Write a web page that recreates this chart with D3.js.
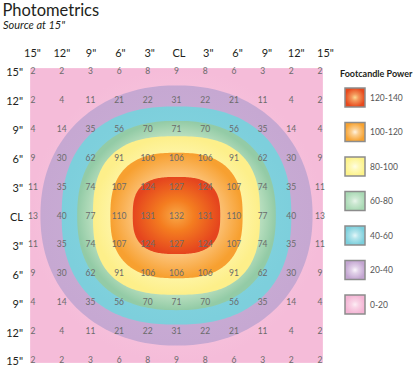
<!DOCTYPE html>
<html><head><meta charset="utf-8">
<script src="https://cdn.jsdelivr.net/npm/d3@7"></script>
<style>html,body{margin:0;padding:0;background:#fff;} svg{display:block;font-family:Lato,"Open Sans",sans-serif;}</style>
</head><body><svg id="chart" width="414" height="367"></svg>
<script>
const colLabels = ['15"','12"','9"','6"','3"','CL','3"','6"','9"','12"','15"'];
const rowLabels = ['15"','12"','9"','6"','3"','CL','3"','6"','9"','12"','15"'];
const footcandles = [
  [2,2,3,6,8,9,8,6,3,2,2],
  [2,4,11,21,22,31,22,21,11,4,2],
  [4,14,35,56,70,71,70,56,35,14,4],
  [9,30,62,91,106,106,106,91,62,30,9],
  [11,35,74,107,124,127,124,107,74,35,11],
  [13,40,77,110,131,132,131,110,77,40,13],
  [11,35,74,107,124,127,124,107,74,35,11],
  [9,30,62,91,106,106,106,91,62,30,9],
  [4,14,35,56,70,71,70,56,35,14,4],
  [2,4,11,21,22,31,22,21,11,4,2],
  [2,2,3,6,8,9,8,6,3,2,2]
];
const thresholds = [20,40,60,80,100,120];
const legendLabels = ["120-140","100-120","80-100","60-80","40-60","20-40","0-20"];
// colours from lowest band (0-20) to highest (120-140)
const bandEdge   = ["#f5bcd9","#c6a8d2","#7dcfdc","#93cba6","#fdef8a","#f7a030","#e5451e"];
const bandMid    = ["#f7c6de","#c9acd4","#80d1dd","#c3e4c5","#fef5a8","#fcc47c","#f47d20"];
const bandCenter = ["#fbe3ef","#f4eef8","#e4f6f9","#eef8ee","#fffbe0","#fff3e3","#f8a848"];
const swatchEdge = ["#f4b4d4","#c3a5d1","#7ccfdc","#a9d9b4","#fdf38a","#f7a230","#e8491d"];
const swatchCenter = ["#fdeef5","#fbf6fc","#e4f7f9","#e8f5ea","#fffde6","#fff3e0","#fcd890"];

const svg = d3.select("#chart");
const defs = svg.append("defs");
const x = d3.scaleLinear().domain([0.5,10.5]).range([33,320]);
const y = d3.scaleLinear().domain([0.5,10.5]).range([71,360]);
const xl = d3.scaleLinear().domain([0.5,10.5]).range([32,325]);

// title
svg.append("text").attr("x",2.5).attr("y",15.5).attr("font-size",16.5).attr("fill","#231f20").text("Photometrics");
svg.append("text").attr("x",3).attr("y",29).attr("font-size",11).attr("font-style","italic").attr("fill","#231f20").text('Source at 15"');

// gradients
function radial(id, c0, cm, c1, mstop){
  const gr = defs.append("radialGradient").attr("id",id).attr("cx","50%").attr("cy","50%").attr("r","50%");
  gr.append("stop").attr("offset","0%").attr("stop-color",c0);
  gr.append("stop").attr("offset",mstop).attr("stop-color",cm);
  gr.append("stop").attr("offset","100%").attr("stop-color",c1);
}
const midStops = ["60%","60%","80%","80%","75%","62%","40%"];
bandEdge.forEach((c,i)=>radial("band"+i, bandCenter[i], bandMid[i], c, midStops[i]));
swatchEdge.forEach((c,i)=>radial("sw"+i, swatchCenter[i], d3.interpolateRgb(swatchCenter[i], c)(0.45), c, "35%"));

// background (0-20)
svg.append("rect").attr("x",x(0.4)).attr("y",y(0.4))
  .attr("width",x(10.6)-x(0.4)).attr("height",y(10.6)-y(0.4))
  .attr("fill","url(#band0)");

// contour bands (d3.contours), drawn as the rounded square fitted to each iso-ring
const flat = footcandles.flat();
const contours = d3.contours().size([11,11]).smooth(true).thresholds(thresholds)(flat);
function fitShape(ring){
  const [x0,x1] = d3.extent(ring, p=>p[0]), [y0,y1] = d3.extent(ring, p=>p[1]);
  const cx=(x0+x1)/2, cy=(y0+y1)/2, a=(x1-x0)/2, b=(y1-y0)/2;
  const rs=[];
  for (let k=0;k<ring.length-1;k++){
    const u1=(ring[k][0]-cx)/a, v1=(ring[k][1]-cy)/b, u2=(ring[k+1][0]-cx)/a, v2=(ring[k+1][1]-cy)/b;
    for (const sg of [1,-1]){
      const f1=u1-sg*v1, f2=u2-sg*v2;
      if (f1===0 || f1*f2<0){ const t=f1/(f1-f2); rs.push(Math.abs(u1+t*(u2-u1))); }
    }
  }
  const s = d3.mean(rs);
  return {cx,cy,a,b,n:Math.log(0.5)/Math.log(s)};
}
const line = d3.line().x(d=>x(d[0])).y(d=>y(d[1])).curve(d3.curveLinearClosed);
contours.forEach((c,i)=>{
  const dstr = c.coordinates.map(poly => {
    const f = fitShape(poly[0]);
    const pts = d3.range(240).map(k=>{
      const th = 2*Math.PI*k/240, co=Math.cos(th), si=Math.sin(th);
      return [f.cx + f.a*Math.sign(co)*Math.pow(Math.abs(co),2/f.n), f.cy + f.b*Math.sign(si)*Math.pow(Math.abs(si),2/f.n)];
    });
    return line(pts);
  }).join("");
  svg.append("path").attr("d",dstr).attr("fill","url(#band"+(i+1)+")");
});

// values
const vg = svg.append("g").attr("font-size",8.5).attr("fill","#6b6b6b").attr("text-anchor","middle");
footcandles.forEach((row,r)=>row.forEach((v,c)=>{
  vg.append("text").attr("x",x(c+0.5)).attr("y",y(r+0.5)+3).text(v);
}));

// axes
const ticks = d3.range(11).map(i=>i+0.5);
const topAxis = svg.append("g").attr("transform","translate(0,60)")
  .call(d3.axisTop(xl).tickValues(ticks).tickFormat((d,i)=>colLabels[i]).tickSize(0).tickPadding(3));
topAxis.select(".domain").remove();
topAxis.selectAll("text").attr("font-size",11).attr("fill","#231f20").attr("font-family","Lato");
const leftAxis = svg.append("g").attr("transform","translate(26,0)")
  .call(d3.axisLeft(y).tickValues(ticks).tickFormat((d,i)=>rowLabels[i]).tickSize(0).tickPadding(3));
leftAxis.select(".domain").remove();
leftAxis.selectAll("text").attr("font-size",11).attr("fill","#231f20").attr("font-family","Lato").attr("dy","0.45em");

// legend
svg.append("text").attr("x",340).attr("y",77).attr("font-size",9).attr("font-weight",700).attr("fill","#231f20").text("Footcandle Power");
const leg = d3.scaleLinear().domain([0,6]).range([88,295]);
legendLabels.forEach((lab,i)=>{
  const bi = 6-i;
  svg.append("rect").attr("x",345).attr("y",leg(i)).attr("width",20).attr("height",19)
    .attr("fill","url(#sw"+bi+")").attr("stroke","#8c8c8c").attr("stroke-width",1.5);
  svg.append("text").attr("x",370).attr("y",leg(i)+12.5).attr("font-size",8.5).attr("fill","#555").text(lab);
});
</script></body></html>
